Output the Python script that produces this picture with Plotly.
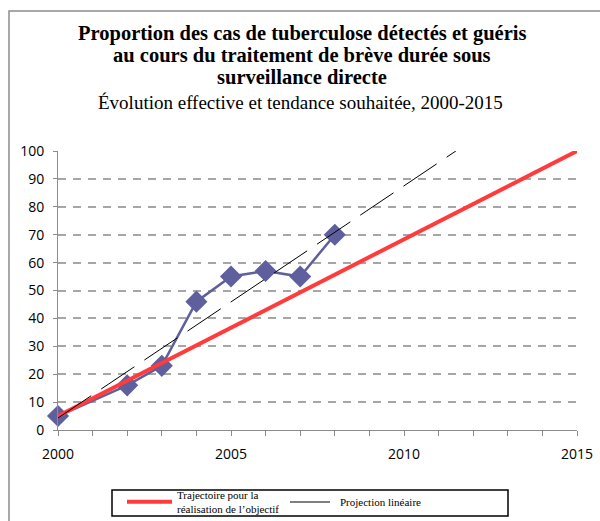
import plotly.graph_objs as go

# Observed proportion (%)
years = [2000, 2002, 2003, 2004, 2005, 2006, 2007, 2008]
values = [5, 16, 23, 46, 55, 57, 55, 70]

# Target trajectory 2000 -> 2015
target_years = [2000, 2015]
target_values = [5, 100]

# Linear projection (trend line as drawn)
proj_years = [2000, 2011.5]
proj_values = [4.3, 100]

x_labels = [2000, 2005, 2010, 2015]
y_ticks = list(range(0, 101, 10))

serif = "Liberation Serif, Times New Roman, serif"
sans = "Open Sans, Liberation Sans, sans-serif"

# plot area in pixels: x 58..577, y 151..430
L, R, T, B = 58, 577, 151, 430
W, H = R - L, B - T


def px_x(p):
    return (p - L) / W


def px_y(p):
    return (B - p) / H


fig = go.Figure()

fig.add_trace(go.Scatter(
    x=years, y=values,
    mode="lines+markers",
    line=dict(color="#5f5f9e", width=2.5),
    marker=dict(symbol="diamond", size=17, color="#5f5f9e"),
    showlegend=False,
    cliponaxis=False,
))
fig.add_trace(go.Scatter(
    x=target_years, y=target_values,
    mode="lines",
    name="Trajectoire pour la<br>réalisation de l’objectif",
    line=dict(color="#ff3b3b", width=4),
))
fig.add_trace(go.Scatter(
    x=proj_years, y=proj_values,
    mode="lines",
    name="Projection linéaire",
    line=dict(color="black", width=1, dash="40px,12px"),
    legend="legend2",
))

# Titles
title_lines = [
    "Proportion des cas de tuberculose détectés et guéris",
    "au cours du traitement de brève durée sous",
    "surveillance directe",
]
for i, t in enumerate(title_lines):
    fig.add_annotation(
        text="<b>%s</b>" % t, xref="paper", yref="paper",
        x=px_x(302), y=px_y(34 + 21.5 * i),
        xanchor="center", yanchor="middle", showarrow=False,
        font=dict(family=serif, size=20.5, color="black"),
    )
fig.add_annotation(
    text="Évolution effective et tendance souhaitée, 2000-2015",
    xref="paper", yref="paper", x=px_x(300), y=px_y(103),
    xanchor="center", yanchor="middle", showarrow=False,
    font=dict(family=serif, size=19, color="black"),
)

# Outer frame
fig.add_shape(
    type="rect", xref="paper", yref="paper",
    x0=px_x(9), x1=px_x(640), y0=px_y(560), y1=px_y(11),
    line=dict(color="#8c8c8c", width=1.5), layer="below",
)
# Legend box
fig.add_shape(
    type="rect", xref="paper", yref="paper",
    x0=px_x(112), x1=px_x(508), y0=px_y(516), y1=px_y(490),
    line=dict(color="black", width=1.5), layer="below",
)

legend_common = dict(
    orientation="h", xref="container", yref="container",
    xanchor="left", yanchor="middle", valign="middle",
    borderwidth=0, bgcolor="rgba(0,0,0,0)",
    font=dict(family=serif, size=11, color="black"),
    itemwidth=45, tracegroupgap=0,
)

fig.update_layout(
    width=600, height=521,
    margin=dict(l=L, r=600 - R, t=T, b=521 - B),
    plot_bgcolor="white",
    paper_bgcolor="white",
    xaxis=dict(
        range=[2000, 2015], tickvals=x_labels, ticks="outside", ticklen=5,
        tickcolor="#8c8c8c", showline=True, linecolor="#8c8c8c", linewidth=1,
        showgrid=False, zeroline=False, ticklabelstandoff=6, automargin=False,
        tickfont=dict(family=sans, size=14, color="black"),
        minor=dict(dtick=1, ticks="outside", ticklen=5, tickcolor="#8c8c8c", showgrid=False),
    ),
    yaxis=dict(
        range=[0, 100], tickvals=y_ticks, ticks="outside", ticklen=4,
        tickcolor="#8c8c8c", showline=True, linecolor="#8c8c8c", linewidth=1,
        showgrid=True, gridcolor="#a6a6a6", gridwidth=1.5, griddash="8px,7px",
        zeroline=False, ticklabelstandoff=6, automargin=False,
        tickfont=dict(family=sans, size=14, color="black"),
    ),
    legend=dict(x=122 / 600, y=1 - 502 / 521, **legend_common),
    legend2=dict(x=285 / 600, y=1 - 502 / 521, **legend_common),
)

fig.write_html(
    "out.html",
    config={"displayModeBar": False},
    post_script="document.body.style.margin='0';",
)
